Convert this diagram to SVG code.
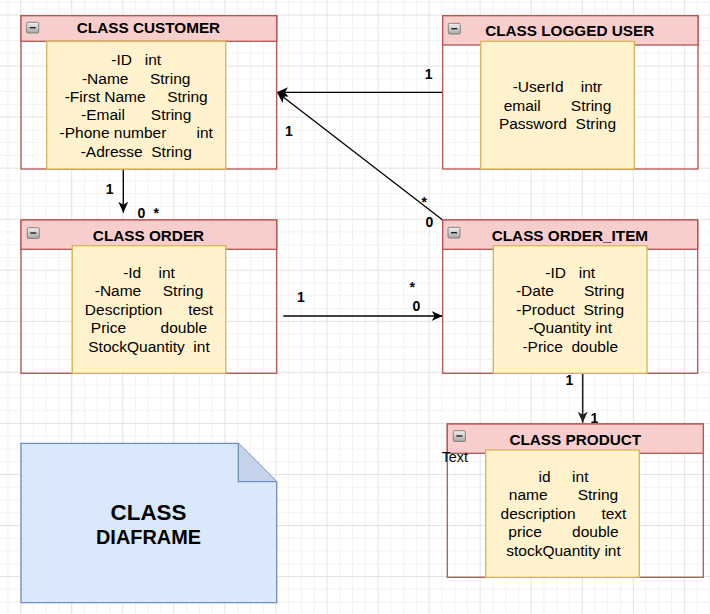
<svg xmlns="http://www.w3.org/2000/svg" width="710" height="614" viewBox="0 0 710 614">
<defs>
<style>
.hdr{fill:#f8cecc;stroke:#b85450;stroke-width:1.3}
.body{fill:none;stroke:#b85450;stroke-width:1.3}
.attr{fill:#fff2cc;stroke:#d6b656;stroke-width:1.3}
.title{font-family:"Liberation Sans",Arial,sans-serif;font-weight:bold;font-size:15.3px;fill:#000;text-anchor:middle}
.txt{font-family:"Liberation Sans",Arial,sans-serif;font-size:15.5px;fill:#000;text-anchor:middle;white-space:pre}
.lbl{font-family:"Liberation Sans",Arial,sans-serif;font-weight:bold;font-size:14px;fill:#000;text-anchor:middle}
.edge{fill:none;stroke:#000;stroke-width:1.3}
.btn{fill:url(#btnGrad);stroke:#6f6f6f;stroke-width:0.8}
.btnm{stroke:#222;stroke-width:1.4}
</style>
<linearGradient id="btnGrad" x1="0" y1="0" x2="0" y2="1">
<stop offset="0" stop-color="#f0f0f0"/>
<stop offset="1" stop-color="#a8a8a8"/>
</linearGradient>
<pattern id="grid" patternUnits="userSpaceOnUse" x="20.2" y="14.5" width="51.05" height="51.05">
<path d="M13.26 0V51.05M26.03 0V51.05M38.79 0V51.05M0 13.26H51.05M0 26.03H51.05M0 38.79H51.05" stroke="#f2f2f2" stroke-width="1"/>
<path d="M0.5 0V51.05M0 0.5H51.05" stroke="#e2e2e2" stroke-width="1"/>
</pattern>
<marker id="arr" viewBox="0 0 11 10" refX="11" refY="5" markerWidth="11" markerHeight="10" markerUnits="userSpaceOnUse" orient="auto">
<path d="M0,0 L11,5 L0,10 L3,5 Z" fill="#000"/>
</marker>
<marker id="arr2" viewBox="0 0 11 10" refX="11" refY="5" markerWidth="11" markerHeight="10" markerUnits="userSpaceOnUse" orient="auto">
<path d="M0,0 L11,5 L0,10 L3,5 Z" fill="#222"/>
</marker>
</defs>
<rect width="710" height="614" fill="#fff"/>
<rect width="710" height="614" fill="url(#grid)"/>

<g id="connectors">
<path class="edge" d="M442.7 92.3H277" marker-end="url(#arr)"/>
<path class="edge" d="M442.7 220L277 92.3" marker-end="url(#arr)"/>
<path class="edge" d="M123.3 169V212.7" marker-end="url(#arr)"/>
<path class="edge" d="M283.3 316H442.7" marker-end="url(#arr)"/>
<path class="edge" d="M582.7 373.3V422.7" style="stroke:#222;stroke-width:1.6" marker-end="url(#arr2)"/>
<text class="lbl" x="428.7" y="79">1</text>
<text class="lbl" x="288.8" y="135.7">1</text>
<text class="lbl" x="424.3" y="207">*</text>
<text class="lbl" x="429.3" y="226.7">0</text>
<text class="lbl" x="109.7" y="194.3">1</text>
<text class="lbl" x="141.3" y="218.3">0</text>
<text class="lbl" x="156.3" y="218">*</text>
<text class="lbl" x="300.8" y="301.7">1</text>
<text class="lbl" x="412.3" y="292">*</text>
<text class="lbl" x="416.3" y="310.7">0</text>
<text class="lbl" x="569.3" y="385">1</text>
<text class="lbl" x="594.3" y="422.7">1</text>
</g>

<g id="customer">
<rect class="body" x="21" y="15.7" width="255.7" height="153.3"/>
<rect class="hdr" x="21" y="15.7" width="255.7" height="25.6"/>
<rect class="btn" x="26.7" y="22.3" width="12" height="10.7" rx="1"/>
<path class="btnm" d="M29.7 27.7H35.7"/>
<text class="title" x="148.5" y="33.3">CLASS CUSTOMER</text>
<rect class="attr" x="46.7" y="41.3" width="179" height="127.7"/>
<text class="txt" xml:space="preserve" x="136.2" y="65.3">-ID   int</text>
<text class="txt" xml:space="preserve" x="136.2" y="83.5">-Name     String</text>
<text class="txt" xml:space="preserve" x="136.2" y="101.8">-First Name     String</text>
<text class="txt" xml:space="preserve" x="136.2" y="120">-Email      String</text>
<text class="txt" xml:space="preserve" x="136.2" y="138.3">-Phone number       int</text>
<text class="txt" xml:space="preserve" x="136.2" y="156.6">-Adresse  String</text>
</g>

<g id="logged-user">
<rect class="body" x="442.7" y="15.7" width="255.3" height="153.3"/>
<rect class="hdr" x="442.7" y="15.7" width="255.3" height="29.3"/>
<rect class="btn" x="448.3" y="23.3" width="12" height="10.7" rx="1"/>
<path class="btnm" d="M451.3 28.7H457.3"/>
<rect class="attr" x="480.7" y="41.3" width="153.6" height="127.7"/>
<text class="title" x="569.7" y="36">CLASS LOGGED USER</text>
<text class="txt" xml:space="preserve" x="557.5" y="92.3">-UserId    intr</text>
<text class="txt" xml:space="preserve" x="557.5" y="110.6">email       String</text>
<text class="txt" xml:space="preserve" x="557.5" y="128.9">Password  String</text>
</g>

<g id="order">
<rect class="body" x="21" y="220" width="255.7" height="153.3"/>
<rect class="hdr" x="21" y="220" width="255.7" height="29.3"/>
<rect class="btn" x="27.3" y="227.7" width="12" height="10.7" rx="1"/>
<path class="btnm" d="M30.3 233H36.3"/>
<text class="title" x="148.5" y="240.7">CLASS ORDER</text>
<rect class="attr" x="72.3" y="245.7" width="153.4" height="127.6"/>
<text class="txt" xml:space="preserve" x="149" y="277.5">-Id    int</text>
<text class="txt" xml:space="preserve" x="149" y="296">-Name     String</text>
<text class="txt" xml:space="preserve" x="149" y="314.5">Description      test</text>
<text class="txt" xml:space="preserve" x="149" y="333">Price        double</text>
<text class="txt" xml:space="preserve" x="149" y="351.5">StockQuantity  int</text>
</g>

<g id="order-item">
<rect class="body" x="442.7" y="220" width="255" height="153.3"/>
<rect class="hdr" x="442.7" y="220" width="255" height="29.3"/>
<rect class="btn" x="448" y="227.3" width="12" height="10.7" rx="1"/>
<path class="btnm" d="M451 232.7H457"/>
<text class="title" x="569.9" y="240.7">CLASS ORDER_ITEM</text>
<rect class="attr" x="493.3" y="245.7" width="153.7" height="127.6"/>
<text class="txt" xml:space="preserve" x="570.2" y="277.7">-ID   int</text>
<text class="txt" xml:space="preserve" x="570.2" y="296.2">-Date       String</text>
<text class="txt" xml:space="preserve" x="570.2" y="314.7">-Product  String</text>
<text class="txt" xml:space="preserve" x="570.2" y="333.2">-Quantity int</text>
<text class="txt" xml:space="preserve" x="570.2" y="351.7">-Price  double</text>
</g>

<g id="product">
<rect class="body" x="447.3" y="424" width="256" height="153.3"/>
<rect class="hdr" x="447.3" y="424" width="256" height="29.3"/>
<rect class="btn" x="453.3" y="430.7" width="12" height="10.7" rx="1"/>
<path class="btnm" d="M456.3 436H462.3"/>
<text class="title" x="575.3" y="445">CLASS PRODUCT</text>
<rect class="attr" x="485.7" y="450" width="153.6" height="127.3"/>
<text x="441.7" y="461.7" style="font-family:'Liberation Sans',Arial,sans-serif;font-size:14.3px;fill:#000">Text</text>
<text class="txt" xml:space="preserve" x="563.5" y="481.7">id     int</text>
<text class="txt" xml:space="preserve" x="563.5" y="500.2">name       String</text>
<text class="txt" xml:space="preserve" x="563.5" y="518.7">description      text</text>
<text class="txt" xml:space="preserve" x="563.5" y="537.2">price       double</text>
<text class="txt" xml:space="preserve" x="563.5" y="555.7">stockQuantity int</text>
</g>

<g id="note">
<path d="M21 443.3H238.3L276.7 481.7V602.7H21Z" fill="#dae8fc" stroke="#6c8ebf" stroke-width="1.3"/>
<path d="M238.3 443.3V481.7H276.7" fill="#c5d4ea" stroke="#6c8ebf" stroke-width="1.3"/>
<text x="148.5" y="520" style="font-family:'Liberation Sans',Arial,sans-serif;font-weight:bold;font-size:22.4px;text-anchor:middle;fill:#000">CLASS</text>
<text x="148.5" y="544.3" style="font-family:'Liberation Sans',Arial,sans-serif;font-weight:bold;font-size:19.9px;text-anchor:middle;fill:#000">DIAFRAME</text>
</g>
</svg>
